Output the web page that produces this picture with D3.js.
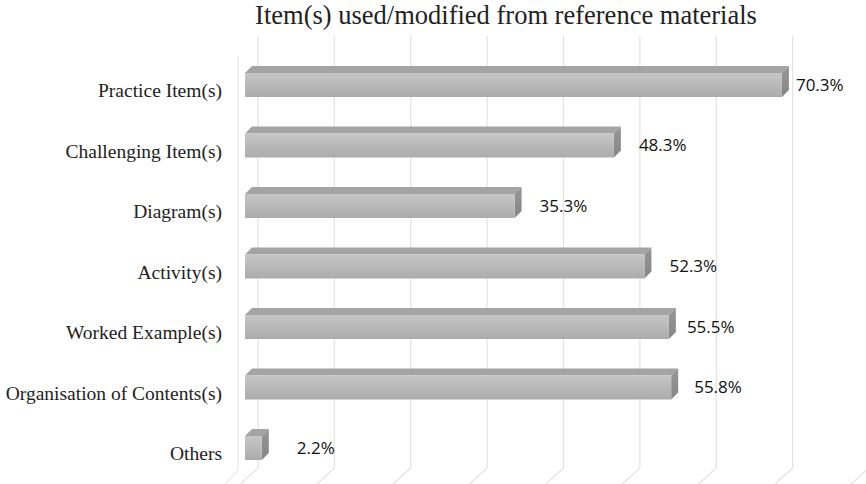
<!DOCTYPE html>
<html><head><meta charset="utf-8">
<script src="https://cdn.jsdelivr.net/npm/d3@7"></script>
<style>html,body{margin:0;padding:0;background:#fff;}svg{display:block;}</style>
</head><body>
<script>
const categories = ["Practice Item(s)","Challenging Item(s)","Diagram(s)","Activity(s)","Worked Example(s)","Organisation of Contents(s)","Others"];
const values = [70.3, 48.3, 35.3, 52.3, 55.5, 55.8, 2.2];
const valueLabels = ["70.3%","48.3%","35.3%","52.3%","55.5%","55.8%","2.2%"];
const gridTicks = [0,10,20,30,40,50,60,70,80];
const title = "Item(s) used/modified from reference materials";
// label gaps (styling, px beyond bar end)
const labelGap = [7, 18, 18, 18, 11, 16, 28];

const W = 866, H = 484;
const svg = d3.select("body").append("svg").attr("width", W).attr("height", H);

const x = d3.scaleLinear().domain([0, 80]).range([245, 245 + 611]);
const y = d3.scalePoint().domain(categories).range([85, 448]);
const barH = 24, depth = 7, wallDx = 13;

const defs = svg.append("defs");
const g1 = defs.append("linearGradient").attr("id","front").attr("x1",0).attr("y1",0).attr("x2",0).attr("y2",1);
g1.append("stop").attr("offset","0%").attr("stop-color","#c6c6c6");
g1.append("stop").attr("offset","100%").attr("stop-color","#ababab");
const g2 = defs.append("linearGradient").attr("id","side").attr("x1",0).attr("y1",0).attr("x2",0).attr("y2",1);
g2.append("stop").attr("offset","0%").attr("stop-color","#979797");
g2.append("stop").attr("offset","100%").attr("stop-color","#858585");

// back wall gridlines + floor diagonals
const grid = svg.append("g");
const wallTop = 36, wallBottom = 468;
gridTicks.forEach(t => {
  const bx = x(t) + wallDx;
  grid.append("path")
    .attr("d", `M${bx},${wallTop}L${bx},${wallBottom}L${bx-22},${wallBottom+20}`)
    .attr("fill","none").attr("stroke","#e4e4e4").attr("stroke-width",1.3);
});
// left side wall edge
grid.append("path")
  .attr("d", `M${x(0)-7},${56}L${x(0)-7},${wallBottom+2}L${x(0)-20},${wallBottom+16}`)
  .attr("fill","none").attr("stroke","#ececec").attr("stroke-width",1.3);

// bars
const bars = svg.append("g").selectAll("g").data(categories).join("g");
bars.each(function(c, i) {
  const gx = d3.select(this);
  const x0 = x(0), x1 = x(values[i]);
  const yt = y(c) - barH / 2, yb = yt + barH;
  gx.append("path")
    .attr("d", `M${x0},${yt}L${x0+depth},${yt-depth}L${x1+depth},${yt-depth}L${x1},${yt}Z`)
    .attr("fill","#a4a4a4");
  gx.append("path")
    .attr("d", `M${x1},${yt}L${x1+depth},${yt-depth}L${x1+depth},${yb-depth}L${x1},${yb}Z`)
    .attr("fill","url(#side)");
  gx.append("rect").attr("x", x0).attr("y", yt).attr("width", x1 - x0).attr("height", barH)
    .attr("fill","url(#front)");
});

// value labels
svg.append("g").selectAll("text").data(categories).join("text")
  .attr("x", (c, i) => x(values[i]) + depth + labelGap[i])
  .attr("y", (c, i) => y(c) + 1)
  .attr("dominant-baseline","middle")
  .attr("font-family","'Open Sans', 'Noto Sans', sans-serif")
  .attr("font-size", 17)
  .attr("fill","#111")
  .text((c, i) => valueLabels[i]);

// category labels
svg.append("g").selectAll("text").data(categories).join("text")
  .attr("x", 222)
  .attr("y", c => y(c) + 8)
  .attr("text-anchor","end")
  .attr("dominant-baseline","middle")
  .attr("font-family","'Liberation Serif', 'Times New Roman', serif")
  .attr("font-size", 19.5)
  .attr("fill","#222")
  .text(c => c);

// title
svg.append("text")
  .attr("x", 506).attr("y", 18)
  .attr("text-anchor","middle")
  .attr("dominant-baseline","middle")
  .attr("font-family","'Liberation Serif', 'Times New Roman', serif")
  .attr("font-size", 26.5)
  .attr("fill","#222")
  .text(title);
</script>
</body></html>
